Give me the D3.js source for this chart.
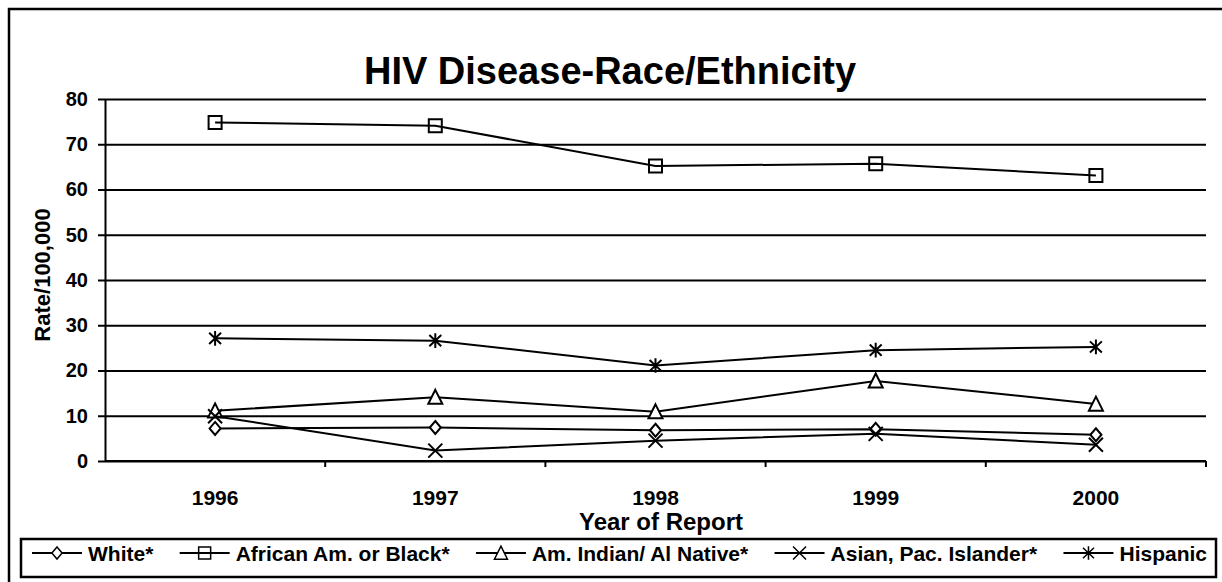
<!DOCTYPE html>
<html>
<head>
<meta charset="utf-8">
<script src="https://cdn.jsdelivr.net/npm/d3@7"></script>
<style>
  body { margin: 0; background: #fff; }
  svg text { font-family: "Liberation Sans", Arial, sans-serif; font-weight: bold; fill: #000; }
</style>
</head>
<body>
<div id="chart"></div>
<script>
// data
var years = ["1996", "1997", "1998", "1999", "2000"];
var seriesNames = ["White*", "African Am. or Black*", "Am. Indian/ Al Native*", "Asian, Pac. Islander*", "Hispanic"];
var white    = [7.2, 7.4, 6.8, 7.0, 5.8];
var black    = [74.8, 74.1, 65.2, 65.7, 63.1];
var amIndian = [11.1, 14.1, 10.9, 17.7, 12.6];
var asian    = [9.9, 2.3, 4.5, 6.0, 3.6];
var hispanic = [27.1, 26.6, 21.1, 24.5, 25.2];
var yTicks = [0, 10, 20, 30, 40, 50, 60, 70, 80];

var width = 1222, height = 582;
var margin = {left: 105, right: 16, top: 99, bottom: 121};

// custom marker shapes, size = half width
var diamond = { draw: function(c, r) { c.moveTo(0, -r); c.lineTo(r * 0.85, 0); c.lineTo(0, r); c.lineTo(-r * 0.85, 0); c.closePath(); } };
var square = { draw: function(c, r) { c.rect(-r, -r, 2 * r, 2 * r); } };
var triangle = { draw: function(c, r) { c.moveTo(0, -r * 1.05); c.lineTo(r, r * 0.95); c.lineTo(-r, r * 0.95); c.closePath(); } };
var cross = { draw: function(c, r) { c.moveTo(-r, -r); c.lineTo(r, r); c.moveTo(r, -r); c.lineTo(-r, r); } };
var asterisk = { draw: function(c, r) {
    c.moveTo(-r * 0.85, -r * 0.8); c.lineTo(r * 0.85, r * 0.8);
    c.moveTo(r * 0.85, -r * 0.8); c.lineTo(-r * 0.85, r * 0.8);
    c.moveTo(0, -r * 1.05); c.lineTo(0, r * 1.05);
} };

var series = [
    {name: seriesNames[0], values: white, shape: diamond, fill: "#fff", r: 6.5},
    {name: seriesNames[1], values: black, shape: square, fill: "none", r: 6.5},
    {name: seriesNames[2], values: amIndian, shape: triangle, fill: "#fff", r: 7},
    {name: seriesNames[3], values: asian, shape: cross, fill: "none", r: 7},
    {name: seriesNames[4], values: hispanic, shape: asterisk, fill: "none", r: 7}
];

var svg = d3.select("#chart").append("svg")
    .attr("width", width)
    .attr("height", height);

// outer frame
svg.append("rect")
    .attr("x", 9).attr("y", 9)
    .attr("width", width + 20).attr("height", height + 20)
    .attr("fill", "none").attr("stroke", "#000").attr("stroke-width", 2.5);

var x = d3.scaleBand()
    .domain(years)
    .range([margin.left, width - margin.right]);

var y = d3.scaleLinear()
    .domain([0, 80])
    .range([height - margin.bottom, margin.top]);

// gridlines
svg.append("g")
    .attr("class", "grid")
    .attr("transform", "translate(" + margin.left + ",0)")
    .call(d3.axisLeft(y).tickValues(yTicks).tickSize(-(width - margin.right - margin.left)).tickFormat(""))
    .call(function(g) { g.select(".domain").remove(); })
    .selectAll("line").attr("stroke", "#000").attr("stroke-width", 2);

// y axis
var yAxis = svg.append("g")
    .attr("transform", "translate(" + margin.left + ",0)")
    .call(d3.axisLeft(y).tickValues(yTicks).tickSize(7).tickSizeOuter(0).tickPadding(10));
yAxis.select(".domain").attr("stroke-width", 2);
yAxis.selectAll(".tick line").attr("stroke-width", 2);
yAxis.selectAll("text").style("font-size", "20px");

// x axis: labels at band centres, tick marks at band edges
var xAxis = svg.append("g")
    .attr("transform", "translate(0," + y(0) + ")")
    .call(d3.axisBottom(x).tickSize(0).tickPadding(29));
xAxis.select(".domain").attr("stroke-width", 2).attr("d", "M" + margin.left + ",0H" + (width - margin.right));
xAxis.selectAll("text").style("font-size", "21px");
svg.append("g")
    .selectAll("line")
    .data(years)
    .enter()
    .append("line")
    .attr("x1", function(d) { return x(d) + x.bandwidth(); })
    .attr("x2", function(d) { return x(d) + x.bandwidth(); })
    .attr("y1", y(0))
    .attr("y2", y(0) + 6)
    .attr("stroke", "#000").attr("stroke-width", 2);

// titles
svg.append("text")
    .attr("x", 610).attr("y", 84)
    .attr("text-anchor", "middle")
    .style("font-size", "38px")
    .text("HIV Disease-Race/Ethnicity");

svg.append("text")
    .attr("text-anchor", "middle")
    .attr("transform", "translate(50,275)rotate(-90)")
    .style("font-size", "22px")
    .text("Rate/100,000");

svg.append("text")
    .attr("x", 661).attr("y", 530)
    .attr("text-anchor", "middle")
    .style("font-size", "24px")
    .text("Year of Report");

// series lines and markers
var line = d3.line()
    .x(function(d, i) { return x(years[i]) + x.bandwidth() / 2; })
    .y(function(d) { return y(d); });

var plot = svg.append("g").attr("class", "data");

series.forEach(function(s) {
    plot.append("path")
        .attr("d", line(s.values))
        .attr("fill", "none")
        .attr("stroke", "#000")
        .attr("stroke-width", 2);

    plot.selectAll(null)
        .data(s.values)
        .enter()
        .append("path")
        .attr("transform", function(d, i) { return "translate(" + (x(years[i]) + x.bandwidth() / 2) + "," + y(d) + ")"; })
        .attr("d", d3.symbol().type(s.shape).size(s.r))
        .attr("fill", s.fill)
        .attr("stroke", "#000")
        .attr("stroke-width", 2);
});

// legend
svg.append("rect")
    .attr("x", 21).attr("y", 539)
    .attr("width", 1195).attr("height", 38)
    .attr("fill", "#fff").attr("stroke", "#000").attr("stroke-width", 2.5);

var legendStart = 32, legendEnd = 1207, ly = 553;
var items = series.map(function(s) {
    var g = svg.append("g");
    g.append("line")
        .attr("x1", 0).attr("x2", 50)
        .attr("stroke", "#000").attr("stroke-width", 2);
    g.append("path")
        .attr("transform", "translate(25,0)")
        .attr("d", d3.symbol().type(s.shape).size(s.r - 0.5))
        .attr("fill", s.fill)
        .attr("stroke", "#000")
        .attr("stroke-width", 1.5);
    var t = g.append("text")
        .attr("x", 56).attr("y", 7.5)
        .style("font-size", "21px")
        .text(s.name);
    return {g: g, w: 56 + t.node().getComputedTextLength()};
});
// spread the items so the last one ends at the right of the box
var used = d3.sum(items, function(d) { return d.w; });
var gap = (legendEnd - legendStart - used) / (items.length - 1);
var lx = legendStart;
items.forEach(function(d) {
    d.g.attr("transform", "translate(" + lx + "," + ly + ")");
    lx += d.w + gap;
});
</script>
</body>
</html>
